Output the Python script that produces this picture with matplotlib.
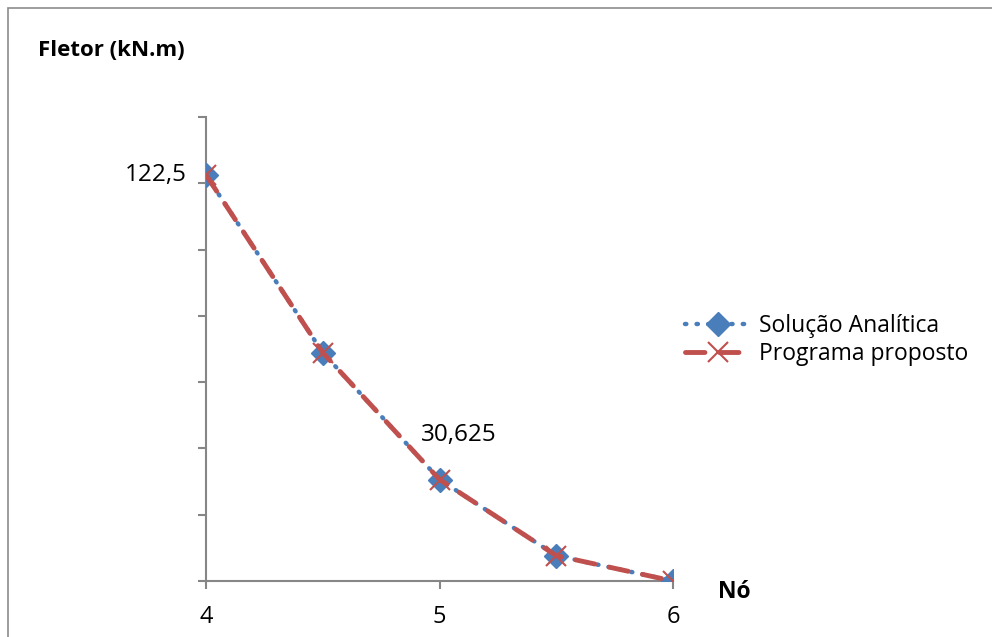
import matplotlib
matplotlib.use('Agg')
from matplotlib import pyplot as plt
from matplotlib.patches import Rectangle

# Dados do gráfico
nos = [4, 4.5, 5, 5.5, 6]
analitica = [122.5, 68.90625, 30.625, 7.65625, 0]
programa = [122.5, 68.90625, 30.625, 7.65625, 0]

plt.rcParams['font.family'] = ['Open Sans', 'DejaVu Sans']

fig = plt.figure(figsize=(9.92, 6.37), dpi=100)

# Borda do gráfico (cortada à direita e embaixo)
fig.patches.append(Rectangle((8 / 992, -0.1), 1.1, 1 - 7.5 / 637 + 0.1,
                             transform=fig.transFigure, fill=False,
                             edgecolor='#8c8c8c', linewidth=1.2))

ax = fig.add_axes([206 / 992, 1 - 581 / 637, (673 - 206) / 992, (581 - 117) / 637])

ax.plot(nos, analitica, color='#4a7ebb', linestyle=(0, (0.3, 2.3)),
        dash_capstyle='round', linewidth=3.2, marker='D', markersize=12,
        markeredgecolor='#4a7ebb', label='Solução Analítica', zorder=3)
ax.plot(nos, programa, color='#c0504d', linestyle=(0, (4, 3)),
        dash_capstyle='round', linewidth=3.5, marker='x', markersize=14,
        markeredgewidth=1.5, markeredgecolor='#c0504d',
        label='Programa proposto', zorder=4)

ax.set_xlim(4, 6)
ax.set_ylim(0, 140)
ax.set_xticks([4, 5, 6])
ax.set_yticks(range(0, 141, 20))
ax.set_yticklabels([])
ax.tick_params(axis='both', direction='out', length=6, width=1.5,
               color='#868686', labelsize=17, pad=11)

for side in ['top', 'right']:
    ax.spines[side].set_visible(False)
for side in ['left', 'bottom']:
    ax.spines[side].set_color('#868686')
    ax.spines[side].set_linewidth(1.5)
ax.spines['bottom'].set_bounds(4, 6)

# Rótulos de dados
ax.annotate('122,5', (nos[0], analitica[0]), xytext=(-14, 0),
            textcoords='offset points', ha='right', va='center', fontsize=17.5)
ax.annotate('30,625', (nos[2], analitica[2]), xytext=(14, 32),
            textcoords='offset points', ha='center', va='center', fontsize=17.5)

# Títulos dos eixos
fig.text(38 / 992, 1 - 50 / 637, 'Fletor (kN.m)', fontsize=16,
         fontweight='bold', ha='left', va='center')
fig.text(718 / 992, 1 - 592 / 637, 'Nó', fontsize=16.5,
         fontweight='bold', ha='left', va='center')

ax.legend(loc='center left', bbox_to_anchor=(664 / 992, 1 - 340 / 637),
          bbox_transform=fig.transFigure, frameon=False, fontsize=16.5,
          handlelength=2.9, labelspacing=0.2, handletextpad=0.35)

fig.savefig('out.png', dpi=100)
